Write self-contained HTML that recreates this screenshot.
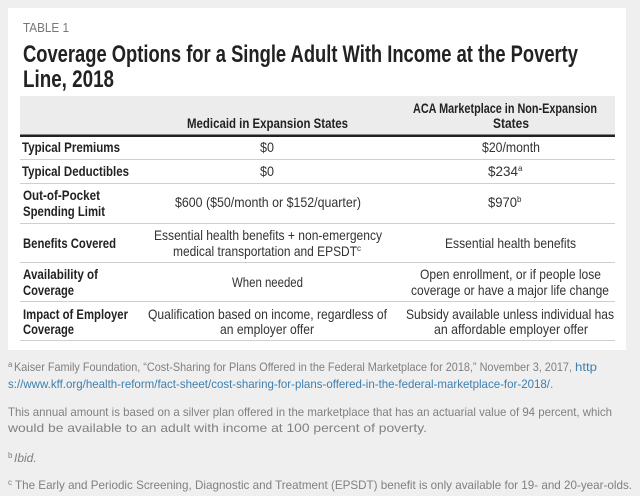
<!DOCTYPE html>
<html><head><meta charset="utf-8"><style>
html,body{margin:0;padding:0;background:#efefef;width:640px;height:496px;overflow:hidden}
svg{display:block}
.c{font-family:"Liberation Sans Narrow","Liberation Sans",sans-serif;fill:#222}
.b{font-weight:bold}
.f{font-family:"Liberation Sans",sans-serif;fill:#808080;font-size:12px}
</style></head><body>
<svg width="640" height="496" viewBox="0 0 640 496" xmlns="http://www.w3.org/2000/svg">
<rect x="8" y="8" width="618" height="342" fill="#fff"/>
<text class="c" x="23" y="32" font-size="13" style="fill:#777" textLength="46" lengthAdjust="spacingAndGlyphs">TABLE 1</text>
<text class="c b" x="23" y="62" font-size="24" textLength="555" lengthAdjust="spacingAndGlyphs">Coverage Options for a Single Adult With Income at the Poverty</text>
<text class="c b" x="23" y="87" font-size="24" textLength="91" lengthAdjust="spacingAndGlyphs">Line, 2018</text>
<rect x="20" y="96" width="595" height="39" fill="#ececec"/>
<rect x="20" y="134.5" width="595" height="2.5" fill="#222"/>
<g fill="#cfcfcf">
<rect x="20" y="159" width="595" height="1"/><rect x="20" y="183" width="595" height="1"/>
<rect x="20" y="223" width="595" height="1"/><rect x="20" y="262" width="595" height="1"/>
<rect x="20" y="301" width="595" height="1"/><rect x="20" y="340" width="595" height="1"/>
</g>
<g class="c b" font-size="14">
<text x="187" y="128" textLength="161" lengthAdjust="spacingAndGlyphs">Medicaid in Expansion States</text>
<text x="413" y="113" textLength="184" lengthAdjust="spacingAndGlyphs">ACA Marketplace in Non-Expansion</text>
<text x="493" y="128" textLength="36" lengthAdjust="spacingAndGlyphs">States</text>
<text x="22" y="152" textLength="98" lengthAdjust="spacingAndGlyphs">Typical Premiums</text>
<text x="22" y="176" textLength="107" lengthAdjust="spacingAndGlyphs">Typical Deductibles</text>
<text x="23" y="200" textLength="77" lengthAdjust="spacingAndGlyphs">Out-of-Pocket</text>
<text x="23" y="216" textLength="82" lengthAdjust="spacingAndGlyphs">Spending Limit</text>
<text x="23" y="248" textLength="93" lengthAdjust="spacingAndGlyphs">Benefits Covered</text>
<text x="23" y="279" textLength="75" lengthAdjust="spacingAndGlyphs">Availability of</text>
<text x="23" y="295" textLength="51" lengthAdjust="spacingAndGlyphs">Coverage</text>
<text x="23" y="319" textLength="105" lengthAdjust="spacingAndGlyphs">Impact of Employer</text>
<text x="23" y="334" textLength="51" lengthAdjust="spacingAndGlyphs">Coverage</text>
</g>
<g class="c" font-size="14" style="fill:#333">
<text x="260" y="152" textLength="14" lengthAdjust="spacingAndGlyphs">$0</text>
<text x="482" y="152" textLength="58" lengthAdjust="spacingAndGlyphs">$20/month</text>
<text x="260" y="176" textLength="14" lengthAdjust="spacingAndGlyphs">$0</text>
<text x="488" y="176" textLength="30" lengthAdjust="spacingAndGlyphs">$234</text>
<text x="518" y="171" font-size="8">a</text>
<text x="175" y="207" textLength="186" lengthAdjust="spacingAndGlyphs">$600 ($50/month or $152/quarter)</text>
<text x="488" y="207" textLength="29" lengthAdjust="spacingAndGlyphs">$970</text>
<text x="517" y="202" font-size="8">b</text>
<text x="154" y="240" textLength="228" lengthAdjust="spacingAndGlyphs">Essential health benefits + non-emergency</text>
<text x="173" y="256" textLength="184" lengthAdjust="spacingAndGlyphs">medical transportation and EPSDT</text>
<text x="357" y="251" font-size="8">c</text>
<text x="445" y="248" textLength="131" lengthAdjust="spacingAndGlyphs">Essential health benefits</text>
<text x="232" y="287" textLength="71" lengthAdjust="spacingAndGlyphs">When needed</text>
<text x="420" y="279" textLength="181" lengthAdjust="spacingAndGlyphs">Open enrollment, or if people lose</text>
<text x="411" y="295" textLength="198" lengthAdjust="spacingAndGlyphs">coverage or have a major life change</text>
<text x="148" y="319" textLength="239" lengthAdjust="spacingAndGlyphs">Qualification based on income, regardless of</text>
<text x="220" y="334" textLength="94" lengthAdjust="spacingAndGlyphs">an employer offer</text>
<text x="406" y="319" textLength="208" lengthAdjust="spacingAndGlyphs">Subsidy available unless individual has</text>
<text x="434" y="334" textLength="154" lengthAdjust="spacingAndGlyphs">an affordable employer offer</text>
</g>
<g class="f">
<text x="8" y="367" font-size="8">a</text>
<text x="14" y="371" textLength="558" lengthAdjust="spacingAndGlyphs">Kaiser Family Foundation, “Cost-Sharing for Plans Offered in the Federal Marketplace for 2018,” November 3, 2017,</text>
<text x="575" y="371" style="fill:#3f7fae" textLength="22" lengthAdjust="spacingAndGlyphs">http</text>
<text x="8" y="388" style="fill:#3f7fae" textLength="542" lengthAdjust="spacingAndGlyphs">s://www.kff.org/health-reform/fact-sheet/cost-sharing-for-plans-offered-in-the-federal-marketplace-for-2018/</text>
<text x="550" y="388">.</text>
<text x="8" y="416" textLength="604" lengthAdjust="spacingAndGlyphs">This annual amount is based on a silver plan offered in the marketplace that has an actuarial value of 94 percent, which</text>
<text x="8" y="432" textLength="419" lengthAdjust="spacingAndGlyphs">would be available to an adult with income at 100 percent of poverty.</text>
<text x="8" y="458" font-size="8">b</text>
<text x="14" y="462" font-style="italic">Ibid.</text>
<text x="8" y="485" font-size="8">c</text>
<text x="15" y="489" textLength="617" lengthAdjust="spacingAndGlyphs">The Early and Periodic Screening, Diagnostic and Treatment (EPSDT) benefit is only available for 19- and 20-year-olds.</text>
</g>
</svg>
</body></html>
